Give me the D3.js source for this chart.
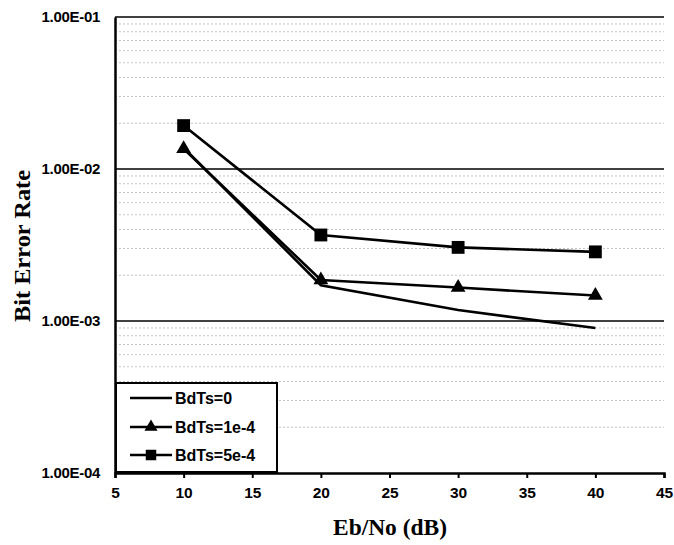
<!DOCTYPE html>
<html><head><meta charset="utf-8">
<script src="https://cdn.jsdelivr.net/npm/d3@7"></script>
<style>body{margin:0;background:#fff}</style>
</head><body>
<svg id="c" width="674" height="545"></svg>
<script>
const ebno = [10, 20, 30, 40];
const ber0 = [0.0138, 0.00172, 0.00118, 0.00090];
const ber1 = [0.0136, 0.00186, 0.00166, 0.00147];
const ber5 = [0.0193, 0.00368, 0.00305, 0.00285];
const seriesNames = ["BdTs=0", "BdTs=1e-4", "BdTs=5e-4"];
const xTicks = [5, 10, 15, 20, 25, 30, 35, 40, 45];
const yTicks = [1e-4, 1e-3, 1e-2, 1e-1];
const yTickLabels = ["1.00E-04", "1.00E-03", "1.00E-02", "1.00E-01"];

const svg = d3.select("#c");
const L = 115, R = 664, T = 17, B = 473;
const x = d3.scaleLinear().domain([5, 45]).range([L, R]);
const y = d3.scaleLog().domain([1e-4, 1e-1]).range([B, T]);
const sans = "Liberation Sans, Arial, sans-serif";
const serif = "Liberation Serif, Times New Roman, serif";

// minor gridlines
const minor = [];
for (let e = -4; e < -1; e++) for (let m = 2; m <= 9; m++) minor.push(m * Math.pow(10, e));
svg.append("g").selectAll("line").data(minor).join("line")
  .attr("x1", L).attr("x2", R).attr("y1", d => y(d)).attr("y2", d => y(d))
  .attr("stroke", "#c4c4c4").attr("stroke-width", 1).attr("stroke-dasharray", "2,2");
// major gridlines
svg.append("g").selectAll("line").data(yTicks.slice(1)).join("line")
  .attr("x1", L).attr("x2", R).attr("y1", d => y(d)).attr("y2", d => y(d))
  .attr("stroke", "#000").attr("stroke-width", 1.3);

// axes
const xAxis = d3.axisBottom(x).tickValues(xTicks).tickSize(5).tickPadding(9).tickFormat(d3.format("d"));
const gx = svg.append("g").attr("transform", `translate(0,${B})`).call(xAxis);
gx.select(".domain").attr("stroke-width", 2.5);
gx.selectAll(".tick line").attr("stroke-width", 2);
gx.selectAll("text").attr("font-family", sans).attr("font-weight", "bold").attr("font-size", 15.5).attr("fill", "#000");

const yAxis = d3.axisLeft(y).tickValues(yTicks).tickSize(0).tickPadding(15)
  .tickFormat((d, i) => yTickLabels[i]);
const gy = svg.append("g").attr("transform", `translate(${L},0)`).call(yAxis);
gy.select(".domain").attr("stroke-width", 2.5);
gy.selectAll("text").attr("font-family", sans).attr("font-weight", "bold").attr("font-size", 15).attr("fill", "#000").attr("letter-spacing", "-0.3");

// axis titles
svg.append("text").attr("x", 390).attr("y", 535).attr("text-anchor", "middle")
  .attr("font-family", serif).attr("font-weight", "bold").attr("font-size", 23)
  .attr("textLength", 114).attr("lengthAdjust", "spacingAndGlyphs")
  .text("Eb/No (dB)");
svg.append("text").attr("transform", `translate(30,246) rotate(-90)`).attr("text-anchor", "middle")
  .attr("font-family", serif).attr("font-weight", "bold").attr("font-size", 23)
  .attr("textLength", 152).attr("lengthAdjust", "spacingAndGlyphs")
  .text("Bit Error Rate");

const data = [ber0, ber1, ber5];
const line = d3.line().x((d, i) => x(ebno[i])).y(d => y(d));
data.forEach(s => {
  svg.append("path").datum(s).attr("d", line).attr("fill", "none").attr("stroke", "#000").attr("stroke-width", 2.6);
});
const tri = d3.symbol().type(d3.symbolTriangle).size(95);
const sq = d3.symbol().type(d3.symbolSquare).size(165);
svg.append("g").selectAll("path").data(ber1).join("path")
  .attr("d", tri).attr("transform", (d, i) => `translate(${x(ebno[i])},${y(d)})`).attr("fill", "#000");
svg.append("g").selectAll("path").data(ber5).join("path")
  .attr("d", sq).attr("transform", (d, i) => `translate(${x(ebno[i])},${y(d)})`).attr("fill", "#000");

// legend
const lg = svg.append("g");
lg.append("rect").attr("x", L + 1).attr("y", 383).attr("width", 161).attr("height", B - 383 - 1)
  .attr("fill", "#fff").attr("stroke", "#000").attr("stroke-width", 2);
const rows = [398, 427, 455];
const ltri = d3.symbol().type(d3.symbolTriangle).size(75);
const lsq = d3.symbol().type(d3.symbolSquare).size(110);
seriesNames.forEach((n, i) => {
  lg.append("line").attr("x1", 130).attr("x2", 172).attr("y1", rows[i]).attr("y2", rows[i])
    .attr("stroke", "#000").attr("stroke-width", 2.6);
  if (i === 1) lg.append("path").attr("d", ltri).attr("transform", `translate(151,${rows[i]})`);
  if (i === 2) lg.append("path").attr("d", lsq).attr("transform", `translate(151,${rows[i]})`);
  lg.append("text").attr("x", 175).attr("y", rows[i] + 5.5).text(n)
    .attr("font-family", sans).attr("font-weight", "bold").attr("font-size", 16).attr("letter-spacing", "0");
});
</script>
</body></html>
